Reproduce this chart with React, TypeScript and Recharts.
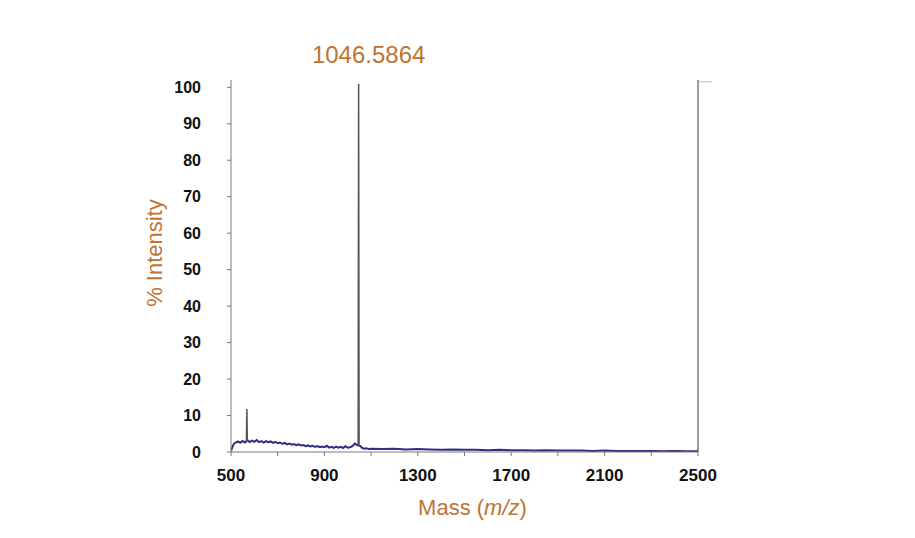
import { LineChart, Line, XAxis, YAxis, ReferenceLine } from 'recharts';

// measured spectrum (baseline noise), m/z vs % intensity
const noiseMass = [
  500, 505, 510, 515, 520, 530, 540, 550, 560, 570, 580, 590, 600, 610, 620, 630, 640, 650, 660, 670,
  680, 690, 700, 710, 720, 730, 740, 750, 760, 770, 780, 790, 800, 810, 820, 830, 840, 850, 860, 870,
  880, 890, 900, 910, 920, 930, 940, 950, 960, 970, 980, 990, 1000, 1010, 1020, 1030, 1040, 1055, 1060, 1070,
  1080, 1090, 1100, 1150, 1200, 1250, 1300, 1350, 1400, 1450, 1500, 1550, 1600, 1650, 1700, 1750, 1800, 1850,
  1900, 1950, 2000, 2050, 2100, 2150, 2200, 2250, 2300, 2350, 2400, 2450, 2500,
];
const noiseIntensity = [
  0.3, 1.2, 2.0, 2.4, 2.6, 2.9, 2.5, 3.0, 2.6, 3.2, 2.7, 3.1, 2.8, 3.3, 2.7, 3.0, 2.6, 3.0, 2.7, 2.9,
  2.5, 2.8, 2.4, 2.6, 2.2, 2.5, 2.1, 2.3, 2.0, 2.2, 1.9, 2.1, 1.8, 1.9, 1.6, 1.8, 1.5, 1.7, 1.4, 1.6,
  1.3, 1.5, 1.3, 1.7, 1.2, 1.4, 1.1, 1.5, 1.2, 1.4, 1.1, 1.6, 1.2, 1.3, 1.6, 2.3, 1.9, 1.6, 1.2, 0.9,
  1.0, 0.8, 0.9, 0.8, 0.9, 0.7, 0.8, 0.7, 0.6, 0.7, 0.6, 0.6, 0.5, 0.6, 0.5, 0.5, 0.4, 0.5,
  0.4, 0.4, 0.4, 0.3, 0.4, 0.3, 0.3, 0.3, 0.3, 0.2, 0.3, 0.2, 0.2,
];

// centroid peaks (null breaks the line between peaks)
const peakMass = [566, 568, 570, 571, 1044.6, 1046.5864, 1048.6];
const peakIntensity = [2.8, 11.8, 2.8, null, 2.2, 101, 2.0];

const xTicks = [500, 700, 900, 1100, 1300, 1500, 1700, 1900, 2100, 2300, 2500];
const xLabelTicks = [500, 900, 1300, 1700, 2100, 2500];
const yTicks = [0, 10, 20, 30, 40, 50, 60, 70, 80, 90, 100];
const basePeak = '1046.5864';

const noiseData = noiseMass.map((m, i) => ({ mass: m, intensity: noiseIntensity[i] }));
const peakData = peakMass.map((m, i) => ({ mass: m, intensity: peakIntensity[i] }));

const ORANGE = '#bf7330';
const AXIS = '#7a7a7a';
const FONT = 'Arial, "Liberation Sans", sans-serif';

export default function App() {
  return (
    <div style={{ position: 'absolute', left: 0, top: 0, background: '#fff' }}>
      <LineChart
        width={915}
        height={538}
        margin={{ top: 80, right: 217, bottom: 26, left: 0 }}
        style={{ fontFamily: FONT }}
      >
        <XAxis
          type="number"
          dataKey="mass"
          domain={[500, 2500]}
          ticks={xTicks}
          allowDataOverflow
          height={60}
          stroke={AXIS}
          tickSize={4}
          tickMargin={13}
          tickFormatter={(v: number) => (xLabelTicks.includes(v) ? String(v) : '')}
          tick={{ fill: '#111', fontSize: 17, fontWeight: 'bold' }}
          label={{
            content: (props: any) => {
              const vb = props.viewBox;
              return (
                <text
                  x={vb.x + vb.width / 2 + 8}
                  y={vb.y + 63}
                  textAnchor="middle"
                  fill={ORANGE}
                  fontSize={22}
                >
                  Mass (<tspan fontStyle="italic">m/z</tspan>)
                </text>
              );
            },
          }}
        />
        <YAxis
          type="number"
          dataKey="intensity"
          domain={[0, 102]}
          ticks={yTicks}
          allowDataOverflow
          width={231}
          stroke={AXIS}
          tickSize={4}
          tickMargin={26}
          tick={{ fill: '#111', fontSize: 16, fontWeight: 'bold' }}
          label={{
            content: (props: any) => {
              const vb = props.viewBox;
              const cx = vb.x + vb.width - 69;
              const cy = 253;
              return (
                <text
                  x={cx}
                  y={cy}
                  textAnchor="middle"
                  transform={`rotate(-90 ${cx} ${cy})`}
                  fill={ORANGE}
                  fontSize={22}
                >
                  % Intensity
                </text>
              );
            },
          }}
        />
        <ReferenceLine x={2500} stroke={AXIS} strokeWidth={1.5} />
        <ReferenceLine
          segment={[{ x: 2500, y: 101.5 }, { x: 2560, y: 101.5 }]}
          stroke="#bbb"
          ifOverflow="visible"
        />
        <ReferenceLine
          x={1046.5864}
          stroke="none"
          label={{
            content: (props: any) => {
              const vb = props.viewBox;
              return (
                <text
                  x={vb.x + 10}
                  y={vb.y - 17}
                  textAnchor="middle"
                  fill={ORANGE}
                  fontSize={24}
                >
                  {basePeak}
                </text>
              );
            },
          }}
        />
        <Line
          data={noiseData}
          dataKey="intensity"
          type="linear"
          stroke="#2e2f82"
          strokeWidth={2}
          dot={false}
          isAnimationActive={false}
        />
        <Line
          data={peakData}
          dataKey="intensity"
          type="linear"
          stroke="#555"
          strokeWidth={1.5}
          dot={false}
          connectNulls={false}
          isAnimationActive={false}
        />
      </LineChart>
    </div>
  );
}
